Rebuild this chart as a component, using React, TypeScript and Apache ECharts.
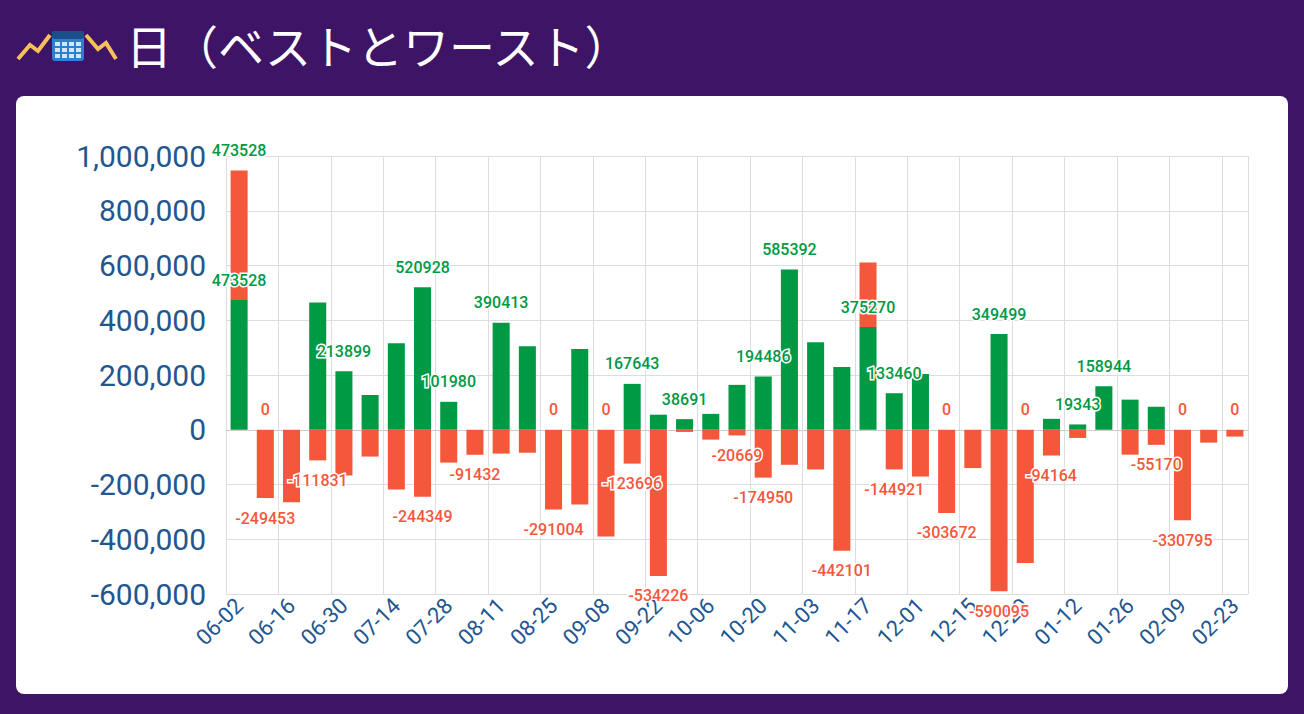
import { useEffect, useRef } from "react";
import * as echarts from "echarts";

const categories = [
  "06-02", "06-09", "06-16", "06-23", "06-30", "07-07", "07-14", "07-21", "07-28", "08-04",
  "08-11", "08-18", "08-25", "09-01", "09-08", "09-15", "09-22", "09-29", "10-06", "10-13",
  "10-20", "10-27", "11-03", "11-10", "11-17", "11-24", "12-01", "12-08", "12-15", "12-22",
  "12-29", "01-05", "01-12", "01-19", "01-26", "02-02", "02-09", "02-16", "02-23"
];

const best = [
  473528, 0, 0, 465000, 213899, 127000, 316000, 520928, 101980, 0,
  390413, 305000, 0, 295000, 0, 167643, 55000, 38691, 58000, 164000,
  194486, 585392, 320000, 229000, 375270, 133460, 204000, 0, 0, 349499,
  0, 40000, 19343, 158944, 110000, 84000, 0, 0, 0
];

const worst = [
  473528, -249453, -265000, -111831, -167000, -98000, -218000, -244349, -120000, -91432,
  -87000, -84000, -291004, -273000, -390000, -123696, -534226, -8000, -36000, -20669,
  -174950, -128000, -145000, -442101, 236000, -144921, -171000, -303672, -140000, -590095,
  -487000, -94164, -30000, 0, -91000, -55170, -330795, -47000, -25000
];

// indices whose value label is visible in the chart
const bestLabelled = [0, 1, 4, 7, 8, 10, 12, 14, 15, 17, 20, 21, 24, 25, 27, 29, 30, 32, 33, 36, 38];
const worstLabelled = [0, 1, 3, 7, 9, 12, 15, 16, 19, 20, 23, 25, 27, 29, 31, 35, 36];

const GREEN = "#009944";
const RED = "#f5573b";
const AXIS_BLUE = "#23568f";

function toItems(values: number[], labelled: number[]) {
  return values.map((v, i) => ({
    value: v,
    label: {
      show: labelled.includes(i),
      color: v > 0 ? GREEN : RED,
      position: v < 0 ? "bottom" : "top"
    }
  }));
}

function Chart() {
  const ref = useRef<HTMLDivElement | null>(null);

  useEffect(() => {
    if (!ref.current) return;
    const chart = echarts.init(ref.current, undefined, { renderer: "svg" });
    const label = {
      fontSize: 16,
      fontWeight: 500,
      fontFamily: "Roboto",
      textBorderColor: "#fff",
      textBorderWidth: 3,
      distance: 12
    };
    chart.setOption({
      animation: false,
      grid: { left: 210, right: 40, top: 60, bottom: 100 },
      xAxis: {
        type: "category",
        data: categories,
        axisLabel: {
          interval: 1,
          rotate: 45,
          color: AXIS_BLUE,
          fontSize: 22,
          fontFamily: "Roboto"
        },
        axisTick: { show: false },
        axisLine: { lineStyle: { color: "#ccc" } },
        splitLine: { show: true, interval: 1, lineStyle: { color: "#ddd" } }
      },
      yAxis: {
        type: "value",
        min: -600000,
        max: 1000000,
        interval: 200000,
        axisLabel: {
          color: AXIS_BLUE,
          fontSize: 30,
          margin: 20,
          fontFamily: "Roboto",
          formatter: (v: number) => v.toLocaleString("en-US")
        },
        splitLine: { lineStyle: { color: "#ddd" } }
      },
      series: [
        {
          name: "best",
          type: "bar",
          stack: "a",
          barWidth: "65%",
          itemStyle: { color: GREEN },
          label,
          data: toItems(best, bestLabelled)
        },
        {
          name: "worst",
          type: "bar",
          stack: "a",
          barWidth: "65%",
          itemStyle: { color: RED },
          label,
          data: toItems(worst, worstLabelled)
        }
      ]
    });
    return () => chart.dispose();
  }, []);

  return <div ref={ref} style={{ width: 1272, height: 598 }} />;
}

export default function App() {
  useEffect(() => {
    document.body.style.margin = "0";
  }, []);

  return (
    <div
      style={{
        width: 1304,
        height: 714,
        background: "#3d1466",
        position: "relative",
        fontFamily: "'Noto Sans CJK JP', sans-serif"
      }}
    >
      <div style={{ position: "absolute", left: 16, top: 14, display: "flex", alignItems: "center" }}>
        <svg width="104" height="50" viewBox="0 0 104 50">
          <polyline points="2,40 14,26 22,32 34,16" fill="none" stroke="#f6c15a" strokeWidth="4" />
          <rect x="36" y="12" width="32" height="30" rx="3" fill="#2f7fd0" />
          <rect x="36" y="12" width="32" height="8" rx="3" fill="#1c4f8a" />
          {[0, 1, 2].map((r) =>
            [0, 1, 2, 3].map((c) => (
              <rect key={`${r}-${c}`} x={39 + c * 7} y={23 + r * 6} width="5" height="4" fill="#cfe8ff" />
            ))
          )}
          <polyline points="70,16 82,30 90,24 100,40" fill="none" stroke="#f6c15a" strokeWidth="4" />
        </svg>
        <span style={{ color: "#fff", fontSize: 46, lineHeight: "60px", marginLeft: 6 }}>日（ベストとワースト）</span>
      </div>
      <div
        style={{
          position: "absolute",
          left: 16,
          top: 96,
          width: 1272,
          height: 598,
          background: "#fff",
          borderRadius: 8,
          overflow: "hidden"
        }}
      >
        <Chart />
      </div>
    </div>
  );
}
